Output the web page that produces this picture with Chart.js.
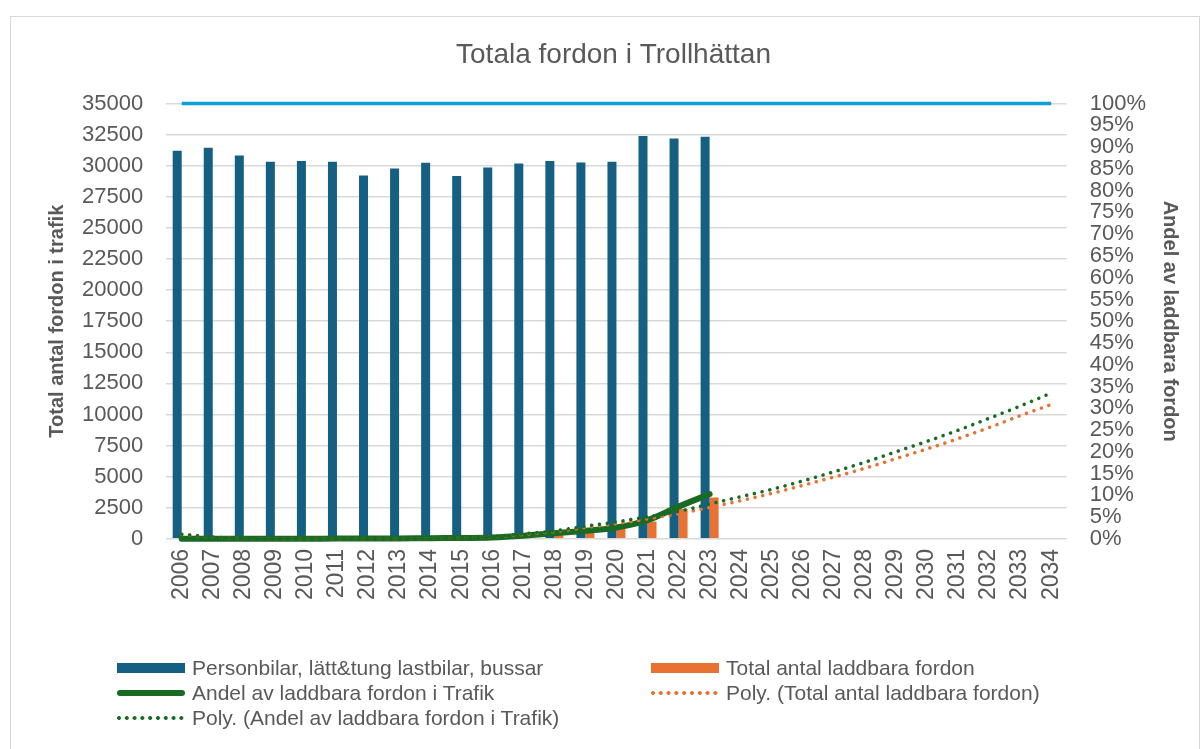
<!DOCTYPE html>
<html>
<head>
<meta charset="utf-8">
<script src="https://cdn.jsdelivr.net/npm/chart.js@4.4.1/dist/chart.umd.min.js"></script>
<style>
  html, body { margin: 0; padding: 0; background: #fff; }
  #wrap { position: relative; width: 1204px; height: 749px; overflow: hidden; font-family: "Liberation Sans", Arial, sans-serif; }
  #frame { position: absolute; left: 10px; top: 16px; width: 1190px; height: 760px; border: 1.5px solid #d9d9d9; box-sizing: border-box; }
  #myChart { position: absolute; left: 0; top: 0; }
  .item { position: absolute; display: flex; align-items: center; height: 24px; margin-top: -12px; color: #595959; font-size: 21px; white-space: nowrap; }
  .mark { width: 68px; margin-right: 7px; }
</style>
</head>
<body>
<div id="wrap">
  <div id="frame"></div>
  <canvas id="myChart" width="1204" height="749"></canvas>
  <div id="legend"></div>
</div>
<script>
// Årtal på x-axeln
const years = ['2006', '2007', '2008', '2009', '2010', '2011', '2012', '2013', '2014', '2015',
  '2016', '2017', '2018', '2019', '2020', '2021', '2022', '2023', '2024', '2025',
  '2026', '2027', '2028', '2029', '2030', '2031', '2032', '2033', '2034'];

// Personbilar, lätt&tung lastbilar, bussar (2006-2023)
const personbilar = [31210, 31450, 30830, 30320, 30380, 30320, 29220, 29780, 30240, 29170,
  29860, 30190, 30380, 30270, 30320, 32390, 32200, 32340];

// Total antal laddbara fordon (2006-2023)
const laddbara = [2, 3, 5, 8, 10, 15, 20, 30, 45, 60, 90, 210, 400, 560, 790, 1390, 2390, 3330];

// Andel av laddbara fordon i trafik, procent (2006-2023)
const andel = [0.01, 0.01, 0.02, 0.03, 0.03, 0.05, 0.07, 0.1, 0.15, 0.2, 0.3, 0.7, 1.3, 1.84,
  2.6, 4.3, 7.4, 10.3];

// Trendlinjer (2006-2034)
const polyTotal = [350, 130, 30, 0, 0, 0, 0, 0, 20, 70, 170, 350, 580, 900, 1230, 1600, 2020,
  2520, 3070, 3650, 4300, 4970, 5670, 6450, 7230, 8060, 8950, 9900, 10800];
const polyAndel = [1.08, 0.4, 0.1, 0, 0, 0, 0, 0, 0.05, 0.2, 0.53, 1.15, 1.84, 2.9, 3.9, 5.07,
  6.3, 8.0, 9.68, 11.37, 13.3, 15.4, 17.6, 20.0, 22.4, 24.95, 27.7, 30.5, 33.5];

// Linjen överst (100 %)
const taket = years.map(() => 100);

const grey = '#595959';
const blue = '#156082';
const orange = '#E97132';
const green = '#196B24';

const ctx = document.getElementById('myChart').getContext('2d');

const myChart = new Chart(ctx, {
  type: 'bar',
  data: {
    labels: years,
    datasets: [
      {
        type: 'bar',
        label: 'Personbilar, lätt&tung lastbilar, bussar',
        data: personbilar,
        backgroundColor: blue,
        yAxisID: 'y',
        order: 4,
        barPercentage: 1,
        categoryPercentage: 0.58,
      },
      {
        type: 'bar',
        label: 'Total antal laddbara fordon',
        data: laddbara,
        backgroundColor: orange,
        yAxisID: 'y',
        order: 5,
        barPercentage: 1,
        categoryPercentage: 0.58,
      },
      {
        type: 'line',
        label: 'Andel av laddbara fordon i Trafik',
        data: andel,
        borderColor: green,
        borderWidth: 6,
        borderCapStyle: 'round',
        pointRadius: 0,
        tension: 0.4,
        yAxisID: 'y1',
        order: 3,
        clip: false,
      },
      {
        type: 'line',
        label: 'Poly. (Total antal laddbara fordon)',
        data: polyTotal,
        borderColor: orange,
        borderWidth: 3.5,
        borderDash: [0.1, 7.8],
        borderCapStyle: 'round',
        pointRadius: 0,
        cubicInterpolationMode: 'monotone',
        yAxisID: 'y',
        order: 2,
        clip: false,
      },
      {
        type: 'line',
        label: 'Poly. (Andel av laddbara fordon i Trafik)',
        data: polyAndel,
        borderColor: green,
        borderWidth: 3.5,
        borderDash: [0.1, 7.8],
        borderCapStyle: 'round',
        pointRadius: 0,
        cubicInterpolationMode: 'monotone',
        yAxisID: 'y1',
        order: 1,
        clip: false,
      },
      {
        type: 'line',
        label: '',
        data: taket,
        borderColor: '#0F9ED5',
        borderWidth: 3.5,
        pointRadius: 0,
        yAxisID: 'y1',
        order: 0,
        clip: false,
      }
    ]
  },
  options: {
    responsive: false,
    animation: false,
    layout: { padding: { left: 37, right: 14, top: 20, bottom: 139 } },
    font: { family: '"Liberation Sans", Arial, sans-serif' },
    plugins: {
      legend: { display: false },
      tooltip: { enabled: false },
      title: {
        display: true,
        text: 'Totala fordon i Trollhättan',
        color: grey,
        font: { size: 28, weight: 'normal' },
        padding: { top: 18, bottom: 32 },
      }
    },
    scales: {
      x: {
        grid: { display: false, drawTicks: false, tickLength: 0 },
        border: { display: false },
        ticks: {
          color: grey,
          font: { size: 23 },
          minRotation: 90,
          maxRotation: 90,
          autoSkip: false,
          padding: 10,
        }
      },
      y: {
        position: 'left',
        min: 0,
        max: 35000,
        ticks: {
          stepSize: 2500,
          color: grey,
          font: { size: 22 },
          padding: 23,
          callback: (v) => String(v),
        },
        grid: { color: '#d9d9d9', lineWidth: 1.5, drawTicks: false, tickLength: 0 },
        border: { display: false },
        title: {
          display: true,
          text: 'Total antal fordon i trafik',
          color: grey,
          font: { size: 20, weight: 'bold' },
          padding: { top: 8, bottom: -10 },
        }
      },
      y1: {
        position: 'right',
        min: 0,
        max: 100,
        ticks: {
          stepSize: 5,
          autoSkip: false,
          color: grey,
          font: { size: 22 },
          padding: 23,
          callback: (v) => v + '%',
        },
        grid: { drawOnChartArea: false, drawTicks: false, tickLength: 0 },
        border: { display: false },
        title: {
          display: true,
          text: 'Andel av laddbara fordon',
          color: grey,
          font: { size: 20, weight: 'bold' },
          padding: { top: 8, bottom: -11 },
        }
      }
    }
  }
});

// Förklaring i två kolumner, byggd från diagrammets dataserier
const legendPos = [[117, 668], [651, 668], [117, 693], [651, 693], [117, 718]];
const legendDiv = document.getElementById('legend');
myChart.data.datasets.slice(0, 5).forEach((ds, i) => {
  const item = document.createElement('div');
  item.className = 'item';
  item.style.left = legendPos[i][0] + 'px';
  item.style.top = legendPos[i][1] + 'px';
  const mark = document.createElement('span');
  mark.className = 'mark';
  if (ds.type === 'bar') {
    mark.style.height = '10px';
    mark.style.background = ds.backgroundColor;
  } else if (ds.borderDash) {
    mark.style.height = '4px';
    mark.style.background = 'radial-gradient(circle at 2px 2px, ' + ds.borderColor + ' 1.7px, transparent 2.2px) 0 0 / 7.8px 4px repeat-x';
  } else {
    mark.style.height = '6px';
    mark.style.borderRadius = '3px';
    mark.style.background = ds.borderColor;
  }
  const text = document.createElement('span');
  text.textContent = ds.label;
  item.appendChild(mark);
  item.appendChild(text);
  legendDiv.appendChild(item);
});
</script>
</body>
</html>
